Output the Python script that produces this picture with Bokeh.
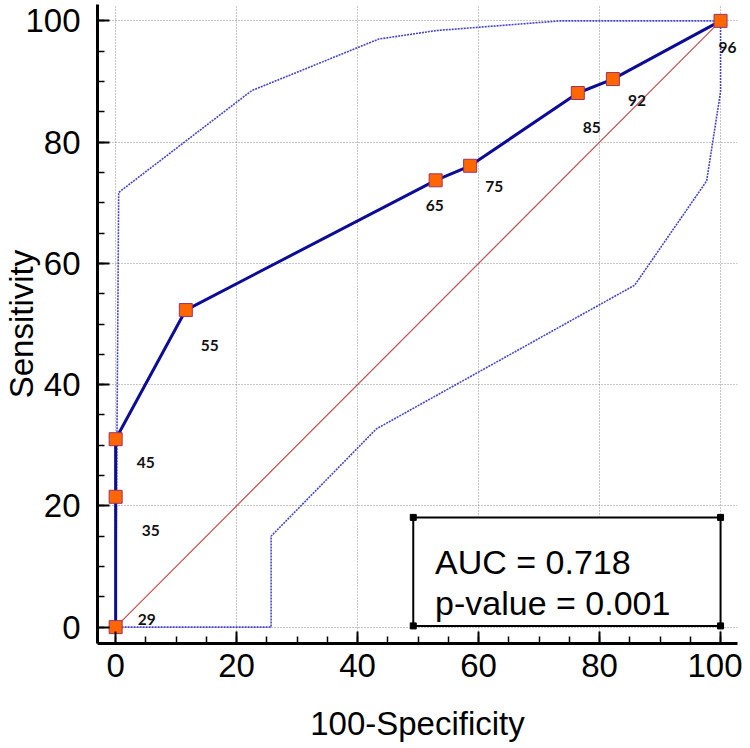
from bokeh.plotting import figure
from bokeh.models import Range1d, Label, BoxAnnotation, ColumnDataSource, FixedTicker
from bokeh.core.properties import value
from bokeh.embed import file_html
from bokeh.resources import INLINE

# ---- data ----
fpr = [0, 0, 0, 11.6, 52.9, 58.6, 76.4, 82.2, 100]          # 100-Specificity
tpr = [0, 21.5, 31.0, 52.3, 73.7, 76.1, 88.1, 90.4, 100]    # Sensitivity
criteria = ["29", "35", "45", "55", "65", "75", "85", "92", "96"]

upper_x = [0, 0.5, 22.5, 43.5, 53.0, 73.5, 100]
upper_y = [0, 71.7, 88.5, 97.0, 98.4, 100, 100]
lower_x = [0, 25.7, 25.7, 43.1, 85.8, 97.7, 100, 100]
lower_y = [0, 0, 15.0, 32.7, 56.4, 73.6, 88.3, 100]
diag_x = [0, 100]
diag_y = [0, 100]

major_ticks = [0, 20, 40, 60, 80, 100]
minor_ticks = list(range(0, 101, 5))

auc_line = "AUC = 0.718"
p_line = "p-value = 0.001"

# ---- label placement (screen px offsets, style only) ----
label_dx = [31, 35, 30, 24, -1, 24, 14, 24, 7]
label_dy = [-8, 34, 23, 35, 25, 21, 34, 21, 27]

FONT = "Liberation Sans"

p = figure(width=742, height=744,
           x_range=Range1d(-3, 102.8), y_range=Range1d(-2.7, 102.7),
           output_backend="svg", toolbar_location=None,
           min_border_left=0, min_border_right=5, min_border_top=4, min_border_bottom=98,
           x_axis_label="100-Specificity", y_axis_label="Sensitivity")
p.outline_line_color = None
p.background_fill_color = "white"

ticker = FixedTicker(ticks=major_ticks, minor_ticks=minor_ticks)
for ax in (p.xaxis[0], p.yaxis[0]):
    ax.ticker = ticker
    ax.axis_line_width = 3
    ax.axis_line_color = "black"
    ax.major_tick_in = 12
    ax.major_tick_out = 0
    ax.minor_tick_in = 7
    ax.minor_tick_out = 0
    ax.major_tick_line_width = 2
    ax.minor_tick_line_width = 1.5
    ax.major_tick_line_color = "black"
    ax.minor_tick_line_color = "black"
    ax.major_label_text_font = FONT
    ax.major_label_text_font_size = "33px"
    ax.major_label_text_color = "black"
    ax.axis_label_text_font = FONT
    ax.axis_label_text_font_size = "33px"
    ax.axis_label_text_font_style = "normal"
    ax.axis_label_text_color = "black"

p.xaxis.major_label_standoff = 10
p.xaxis.axis_label_standoff = 25
p.yaxis.major_label_standoff = 17
p.yaxis.axis_label_standoff = -18

for g in (p.xgrid[0], p.ygrid[0]):
    g.ticker = ticker
    g.grid_line_color = "#8c8c8c"
    g.grid_line_dash = "1 2"
    g.grid_line_width = 1

# diagonal reference line
p.line(diag_x, diag_y, line_color="#c05050", line_width=1.2)

# confidence bounds
p.line(upper_x, upper_y, line_color="#4646c8", line_width=1.6, line_dash="2 1")
p.line(lower_x, lower_y, line_color="#4646c8", line_width=1.6, line_dash="2 1")

# ROC curve
src = ColumnDataSource(dict(x=fpr, y=tpr, label=criteria, dx=label_dx, dy=label_dy))
p.line("x", "y", source=src, line_color="#0c0c96", line_width=3)
p.scatter("x", "y", source=src, marker="square", size=13,
          fill_color="#ff6600", line_color="#993366", line_width=1)
p.text("x", "y", text="label", source=src, x_offset="dx", y_offset="dy",
       text_font=value("Lato"), text_font_style="bold", text_font_size=value("15.5px"),
       text_align="center", text_baseline="middle", text_color="#111111")

# AUC box
box_l, box_r, box_b, box_t = 49.2, 100, 0.2, 18.1
p.add_layout(BoxAnnotation(left=box_l, right=box_r, bottom=box_b, top=box_t,
                           fill_color="white", fill_alpha=1.0,
                           line_color="black", line_alpha=1.0, line_width=2))
p.scatter([box_l, box_r, box_l, box_r], [box_b, box_b, box_t, box_t],
          marker="square", size=6, color="black", level="overlay")
p.add_layout(Label(x=52.8, y=10.7, text=auc_line, text_font=FONT, text_font_size="34px",
                   text_color="black", text_baseline="alphabetic", text_align="left"))
p.add_layout(Label(x=52.8, y=4.0, text=p_line, text_font=FONT, text_font_size="34px",
                   text_color="black", text_baseline="alphabetic", text_align="left"))

open("out.html", "w").write(file_html(p, INLINE))
